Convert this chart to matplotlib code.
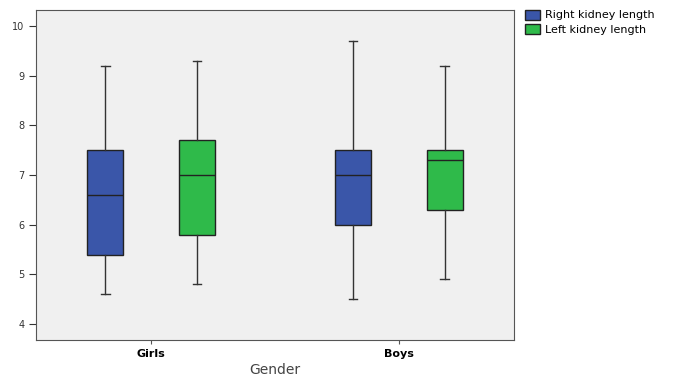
import matplotlib
matplotlib.use("Agg")
import matplotlib.pyplot as plt
from matplotlib.patches import Patch

groups = ["Girls", "Boys"]
series = ["Right kidney length", "Left kidney length"]
colors = ["#3A56A9", "#2FBA4A"]

# per series, per group: (whislo, q1, med, q3, whishi)
right_stats = [(4.6, 5.4, 6.6, 7.5, 9.2), (4.5, 6.0, 7.0, 7.5, 9.7)]
left_stats = [(4.8, 5.8, 7.0, 7.7, 9.3), (4.9, 6.3, 7.3, 7.5, 9.2)]

fig = plt.figure(figsize=(6.82, 3.76), dpi=100)
ax = fig.add_axes([36 / 682, 36 / 376, 478 / 682, 330 / 376])
ax.set_facecolor("#F0F0F0")

offset = 0.185
for k, (stats, col) in enumerate(zip([right_stats, left_stats], colors)):
    bx = []
    for s in stats:
        lo, q1, med, q3, hi = s
        bx.append(dict(whislo=lo, q1=q1, med=med, q3=q3, whishi=hi, fliers=[]))
    pos = [i + (offset if k else -offset) for i in range(len(groups))]
    ax.bxp(bx, positions=pos, widths=0.146, patch_artist=True, showfliers=False,
           boxprops=dict(facecolor=col, edgecolor="#222222", linewidth=1.0),
           medianprops=dict(color="#222222", linewidth=1.0),
           whiskerprops=dict(color="#333333", linewidth=1.0),
           capprops=dict(color="#333333", linewidth=1.0),
           capwidths=0.035, manage_ticks=False)

ax.set_xlim(-0.464, 1.464)
ax.set_ylim(3.68, 10.32)
ax.set_xticks(range(len(groups)))
ax.set_xticklabels(groups, fontsize=8, fontweight="bold")
ax.set_yticks(range(4, 11))
ax.tick_params(axis="y", labelsize=7, colors="#333333", length=5)
ax.tick_params(axis="x", length=3, colors="#555555", labelcolor="black")
for sp in ax.spines.values():
    sp.set_color("#555555")
ax.set_xlabel("Gender", fontsize=10, color="#444444", labelpad=3)

handles = [Patch(facecolor=c, edgecolor="#222222", label=s) for c, s in zip(colors, series)]
fig.legend(handles=handles, loc="upper left", bbox_to_anchor=(517 / 682, 0.995),
           frameon=False, fontsize=8, handlelength=1.4, handleheight=1.0,
           handletextpad=0.4, labelspacing=0.35, borderaxespad=0.3)

fig.savefig("out.png", dpi=100)
